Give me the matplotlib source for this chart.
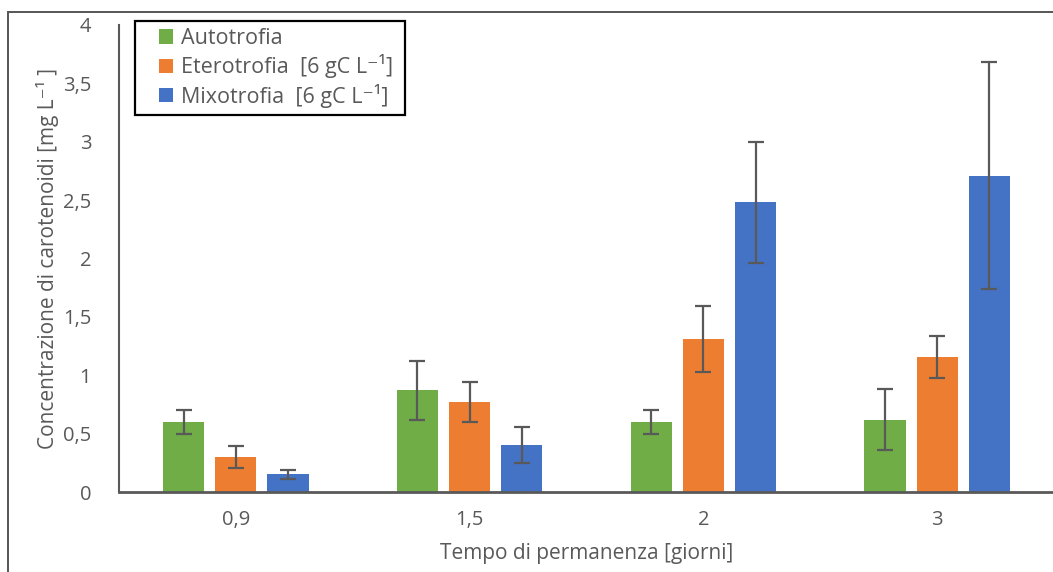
import numpy as np
import matplotlib
matplotlib.use('Agg')
import matplotlib.pyplot as plt
from matplotlib.patches import Rectangle

plt.rcParams['font.family'] = ['Open Sans', 'DejaVu Sans']

# residence time [days]
tempi = ['0,9', '1,5', '2', '3']

autotrofia = [0.60, 0.87, 0.60, 0.62]
autotrofia_err = [0.10, 0.25, 0.105, 0.26]
eterotrofia = [0.30, 0.77, 1.31, 1.16]
eterotrofia_err = [0.095, 0.17, 0.28, 0.18]
mixotrofia = [0.15, 0.405, 2.48, 2.71]
mixotrofia_err = [0.04, 0.155, 0.52, 0.97]

serie = ['Autotrofia', 'Eterotrofia  [6 gC L⁻¹]', 'Mixotrofia  [6 gC L⁻¹]']
colori = ['#70AD47', '#ED7D31', '#4472C4']
grigio = '#595959'

W, H = 1053, 572
fig = plt.figure(figsize=(W / 100, H / 100), dpi=100)
ax = fig.add_axes([119 / W, 1 - 492 / H, 935 / W, 467 / H])

x = np.arange(len(tempi))
w = 0.176
step = 0.223
for i, (vals, errs) in enumerate([(autotrofia, autotrofia_err),
                                  (eterotrofia, eterotrofia_err),
                                  (mixotrofia, mixotrofia_err)]):
    ax.bar(x + (i - 1) * step, vals, w, color=colori[i], label=serie[i],
           yerr=errs, capsize=6,
           error_kw=dict(ecolor=grigio, elinewidth=1.6, capthick=1.6))

ax.set_xlim(-0.5, 3.5)
ax.set_ylim(0, 4)
ax.set_xticks(x)
ax.set_xticklabels(tempi)
ax.set_yticks(np.arange(0, 4.01, 0.5))
ax.set_yticklabels(['0', '0,5', '1', '1,5', '2', '2,5', '3', '3,5', '4'])
ax.tick_params(length=0, labelsize=14.5, colors=grigio, pad=13)
ax.tick_params(axis='y', pad=20)

for s in ['top', 'right']:
    ax.spines[s].set_visible(False)
ax.spines['bottom'].set_color(grigio)
ax.spines['bottom'].set_linewidth(2)
ax.spines['left'].set_color(grigio)
ax.spines['left'].set_linewidth(1.5)

ax.set_xlabel('Tempo di permanenza [giorni]', fontsize=15, color=grigio, labelpad=9)
ax.set_ylabel('Concentrazione di carotenoidi [mg L⁻¹ ]', fontsize=15, color=grigio, labelpad=3)

# legend entries without frame, box drawn separately
leg = fig.legend(loc='upper left', bbox_to_anchor=(159 / W, 1 - 28 / H),
                 fontsize=15.5, frameon=False, handlelength=0.65,
                 handleheight=0.65, handletextpad=0.35, labelspacing=0.25,
                 borderpad=0, borderaxespad=0)
for t in leg.get_texts():
    t.set_color(grigio)
fig.add_artist(Rectangle((135 / W, 1 - 115 / H), 270 / W, 94 / H,
                         transform=fig.transFigure, fill=False,
                         edgecolor='black', linewidth=1.6, zorder=5))

# outer chart frame (left and top edges) as thin filled strips
fig.add_artist(Rectangle((7 / W, 0), 2 / W, 1 - 11 / H, transform=fig.transFigure,
                         facecolor=grigio, edgecolor='none', zorder=10))
fig.add_artist(Rectangle((7 / W, 1 - 13 / H), 1, 2 / H, transform=fig.transFigure,
                         facecolor=grigio, edgecolor='none', zorder=10))

fig.savefig('out.png', dpi=100)
